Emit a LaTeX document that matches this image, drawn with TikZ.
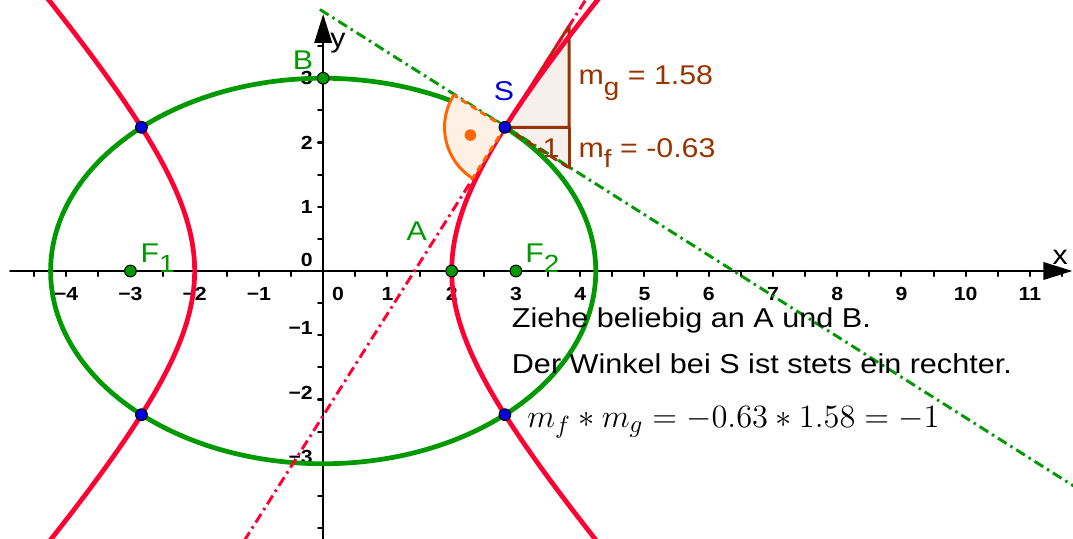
\documentclass[tikz,border=0pt]{standalone}
\usepackage{fontspec}
\setmainfont{Liberation Sans}[FakeStretch=1.12]
\usetikzlibrary{arrows.meta}
\definecolor{kgreen}{RGB}{0,153,0}
\definecolor{kred}{RGB}{255,0,51}
\definecolor{kblue}{RGB}{0,0,220}
\definecolor{kbrown}{RGB}{153,51,0}
\definecolor{korange}{RGB}{255,102,0}
\tikzset{
  ks plane/.style={
    x=1cm,
    y=1cm,
    line cap=round,
    line join=round
  },
  ks axis/.style={
    line width=1.1pt,
    -{Triangle[length=4.5mm,width=2.7mm]}
  },
  ks tick/.style={
    font=\fontsize{8.4}{10}\selectfont\bfseries,
    inner sep=1pt
  },
  ks conic/.style={
    line width=2.1pt
  },
  ks tangent/.style={
    line width=1.3pt,
    line cap=butt,
    dash pattern=on 4.5pt off 2pt on 1.1pt off 2pt
  },
  ks point/.style={
    circle,
    draw=black,
    line width=0.45pt,
    inner sep=0pt,
    minimum size=5.2pt
  },
  ks label/.style={
    font=\fontsize{12}{14}\selectfont,
    inner sep=0pt,
    anchor=base west
  },
  ks slope/.style={
    draw=kbrown,
    line width=1.3pt,
    fill=kbrown!8
  },
  ks text/.style={
    font=\fontsize{12.1}{14}\selectfont,
    inner sep=0pt,
    anchor=base west
  }
}
\newcommand{\kssub}[1]{\raisebox{-4.8pt}{\fontsize{11}{12}\selectfont #1}}

\begin{document}
\begin{tikzpicture}[ks plane]
  \useasboundingbox (-5.03,-4.156) rectangle (11.67,4.218);
  \clip (-5.03,-4.156) rectangle (11.67,4.218);

  % axes
  \coordinate (S) at (2.8284,2.2361);
  \foreach \t in {-4.5,-4,...,11.5}
    \draw[line width=0.9pt] (\t,0) -- (\t,-0.08);
  \foreach \t in {-4,-3.5,...,3.5}
    \draw[line width=0.9pt] (0,\t) -- (-0.08,\t);
  \draw[ks axis] (-4.87,0) -- (11.66,0);
  \draw[ks axis] (0,-4.2) -- (0,4.0);
  \node[font=\fontsize{12}{14}\selectfont] (xname) at (11.47,0.22) {x};
  \node[font=\fontsize{12}{14}\selectfont] (yname) at (0.23,3.55) {y};
  \foreach \n in {-4,-3,-2,-1} {
    \pgfmathtruncatemacro\k{-\n}
    \node[ks tick] (xm\k) at (\n,-0.36) {−\k};
  }
  \foreach \n in {-3,-2,-1} {
    \pgfmathtruncatemacro\k{-\n}
    \node[ks tick,anchor=east] (ym\k) at (-0.12,\n+0.11) {−\k};
  }
  \foreach \n in {1,...,11}
    \node[ks tick] (xp\n) at (\n,-0.36) {\n};
  \foreach \n in {1,2,3}
    \node[ks tick,anchor=east] (yp\n) at (-0.12,\n) {\n};
  \node[ks tick] (xz) at (0.23,-0.36) {0};
  \node[ks tick,anchor=east] (yz) at (-0.12,0.17) {0};

  % slope triangles
  \draw[ks slope] (S) -- ++(1,0) -- ++(0,1.5811) -- cycle;
  \fill[kbrown!8] (S) -- ++(1,0) -- ++(0,-0.6325) -- cycle;

  % conics
  \draw[ks conic,kgreen] (0,0) ellipse[x radius=4.2426,y radius=3];
  \draw[ks conic,kred] plot[domain=-1.45:1.45,samples=80] ({2*cosh(\x)},{2.2361*sinh(\x)});
  \draw[ks conic,kred] plot[domain=-1.45:1.45,samples=80] ({-2*cosh(\x)},{2.2361*sinh(\x)});

  % tangents
  \coordinate (g1) at (-0.05,4.07);
  \coordinate (g2) at (11.75,-3.39);
  \coordinate (f1) at (-1.23,-4.2);
  \coordinate (f2) at (4.11,4.26);
  \draw[ks tangent,kgreen] (g1) -- (g2);
  \draw[ks tangent,kred] (f1) -- (f2);

  % right angle at S
  \fill[korange!10] (S) -- ++(147.69:0.94) arc[start angle=147.69,end angle=237.69,radius=0.94] -- cycle;
  \draw[korange,line width=1.3pt] (S) ++(147.69:0.94) arc[start angle=147.69,end angle=237.69,radius=0.94];
  \draw[korange,line width=1.3pt,dash pattern=on 2.5pt off 2.5pt] (S) -- ++(147.69:0.94);
  \draw[korange,line width=1.3pt,dash pattern=on 2.5pt off 2.5pt] (S) -- ++(237.69:0.94);
  \fill[korange] (S) ++(192.69:0.55) circle[radius=0.09];

  % slope edges
  \draw[kbrown,line width=1.3pt] (S) -- ++(1,0) -- ++(0,-0.6325);
  \draw[kbrown,line width=1.3pt,dash pattern=on 3pt off 3pt] (S) -- ++(1,-0.6325);
  \node[ks label,text=kbrown] (one) at (3.41,1.77) {1};
  \node[ks label,text=kbrown] (mg) at (3.97,2.895) {m\kssub{g} = 1.58};
  \node[ks label,text=kbrown] (mf) at (3.97,1.774) {m\kssub{f} = -0.63};

  % points
  \foreach \sx/\sy [count=\i] in {1/1,-1/1,-1/-1,1/-1}
    \node[ks point,fill=kblue] (P\i) at (\sx*2.8284,\sy*2.2361) {};
  \node[ks point,fill=kgreen] (F1) at (-3,0) {};
  \node[ks point,fill=kgreen] (F2) at (3,0) {};
  \node[ks point,fill=kgreen] (A) at (2,0) {};
  \node[ks point,fill=kgreen] (B) at (0,3) {};
  \node[ks label,text=kgreen] (F1name) at (-2.85,0.14) {F\kssub{1}};
  \node[ks label,text=kgreen] (F2name) at (3.14,0.14) {F\kssub{2}};
  \node[ks label,text=kgreen] (Aname) at (1.29,0.48) {A};
  \node[ks label,text=kgreen] (Bname) at (-0.48,3.13) {B};
  \node[ks label,text=kblue] (Sname) at (2.65,2.66) {S};

  % text
  \node[ks text] (line1) at (2.93,-0.887) {Ziehe beliebig an A und B.};
  \node[ks text] (line2) at (2.93,-1.60) {Der Winkel bei S ist stets ein rechter.};
  \node[ks text,font=\fontsize{15.2}{18}\selectfont] (line3) at (3.17,-2.44)
    {$m_f * m_g = -0.63 * 1.58 = -1$};
\end{tikzpicture}
\end{document}
